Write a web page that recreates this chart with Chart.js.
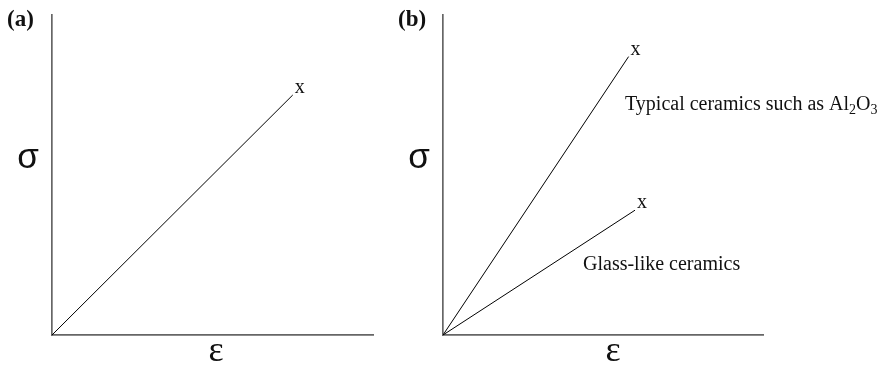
<!DOCTYPE html>
<html>
<head>
<meta charset="utf-8">
<script src="https://cdn.jsdelivr.net/npm/chart.js@4.4.1/dist/chart.umd.min.js"></script>
<style>
  html, body { margin: 0; padding: 0; background: #fff; }
  .panel { position: absolute; top: 0; height: 371px; }
  #panel-a { left: 0; width: 420px; }
  #panel-b { left: 390px; width: 490px; }
</style>
</head>
<body>
<div class="panel" id="panel-a"><canvas id="chart-a"></canvas></div>
<div class="panel" id="panel-b"><canvas id="chart-b"></canvas></div>
<script>
// spanning 0..100 on both axes (arbitrary units)
const strainA = [0, 75];
const stressA = [0, 75];

const strainTypical = [0, 58];
const stressTypical = [0, 87];

const strainGlass = [0, 60];
const stressGlass = [0, 39];

const axisMax = 100;

function pts(xs, ys) {
    return xs.map((x, i) => ({ x: x, y: ys[i] }));
}

// draws text with optional subscript pieces, e.g. Al2O3
function drawRich(ctx, parts, x, y, size) {
    parts.forEach(p => {
        const s = p.sub ? size * 0.7 : size;
        ctx.font = s + 'px "Liberation Serif", serif';
        ctx.fillText(p.t, x, p.sub ? y + size * 0.22 : y);
        x += ctx.measureText(p.t).width;
    });
}

// axis symbols, panel letter, failure "x" marks and notes
const notesPlugin = {
    id: 'notes',
    afterDraw(chart, args, opts) {
        const ctx = chart.ctx;
        const a = chart.chartArea;
        ctx.save();
        ctx.fillStyle = '#111';
        ctx.textBaseline = 'alphabetic';
        ctx.textAlign = 'left';

        ctx.font = 'bold 23px "Liberation Serif", serif';
        ctx.fillText(opts.letter, a.left - 45, a.top + 11);

        ctx.textAlign = 'center';
        ctx.textBaseline = 'middle';
        ctx.font = '35px "Liberation Sans", sans-serif';
        ctx.fillText('σ', a.left - 24, a.top + 143);
        ctx.font = '36px "Liberation Serif", serif';
        ctx.fillText('ε', opts.epsX, a.bottom + 17);

        // "x" at the end of every curve
        ctx.font = '20px "Liberation Serif", serif';
        ctx.textBaseline = 'alphabetic';
        chart.data.datasets.forEach((ds, i) => {
            const meta = chart.getDatasetMeta(i);
            const last = meta.data[meta.data.length - 1];
            ctx.fillText('x', last.x + 7, last.y - 2);
        });

        ctx.textAlign = 'left';
        (opts.labels || []).forEach(l => drawRich(ctx, l.parts, l.x, l.y, 20));
        ctx.restore();
    }
};

function makeOptions(letter, epsX, labels) {
    return {
        responsive: true,
        maintainAspectRatio: false,
        animation: false,
        layout: { padding: { left: 52, top: 15, right: 0, bottom: 36 } },
        scales: {
            x: {
                type: 'linear', min: 0, max: axisMax,
                ticks: { display: false },
                grid: { display: false, drawTicks: false },
                border: { display: true, color: '#666', width: 1.7 }
            },
            y: {
                type: 'linear', min: 0, max: axisMax,
                ticks: { display: false },
                grid: { display: false, drawTicks: false },
                border: { display: true, color: '#666', width: 1.7 }
            }
        },
        plugins: {
            legend: { display: false },
            tooltip: { enabled: false },
            notes: { letter: letter, epsX: epsX, labels: labels }
        },
        elements: { point: { radius: 0 } }
    };
}

function lineSet(data) {
    return {
        data: data,
        showLine: true,
        borderColor: '#000',
        borderWidth: 1,
        pointRadius: 0,
        fill: false,
        tension: 0
    };
}

const optsA = makeOptions('(a)', 216, []);
optsA.layout.padding.right = 47;
new Chart(document.getElementById('chart-a'), {
    type: 'scatter',
    data: { datasets: [lineSet(pts(strainA, stressA))] },
    options: optsA,
    plugins: [notesPlugin]
});

const optsB = makeOptions('(b)', 223, [
    { x: 235, y: 110, parts: [{ t: 'Typical ceramics such as Al' }, { t: '2', sub: true }, { t: 'O' }, { t: '3', sub: true }] },
    { x: 193, y: 270, parts: [{ t: 'Glass-like ceramics' }] }
]);
optsB.layout.padding.left = 53;
optsB.layout.padding.right = 117;
new Chart(document.getElementById('chart-b'), {
    type: 'scatter',
    data: { datasets: [lineSet(pts(strainTypical, stressTypical)), lineSet(pts(strainGlass, stressGlass))] },
    options: optsB,
    plugins: [notesPlugin]
});
</script>
</body>
</html>
